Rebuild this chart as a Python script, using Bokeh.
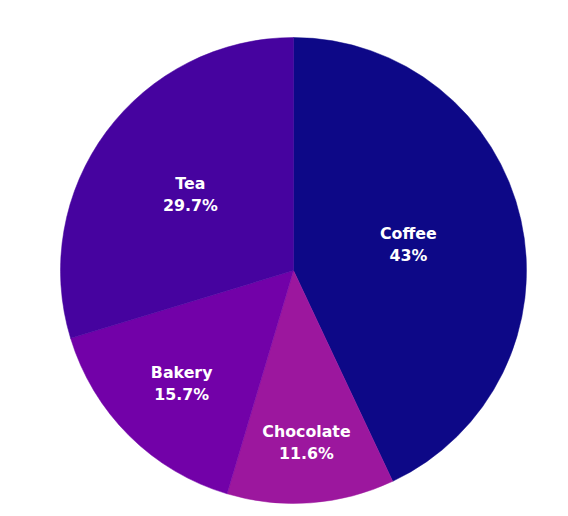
import math
from bokeh.plotting import figure
from bokeh.models import ColumnDataSource, Range1d
from bokeh.embed import file_html
from bokeh.resources import INLINE
from bokeh.core.properties import value

# Data (clockwise from 12 o'clock)
categories = ["Coffee", "Chocolate", "Bakery", "Tea"]
shares = [43.0, 11.6, 15.7, 29.7]
colors = ["#0d0887", "#9c179e", "#7201a8", "#46039f"]

# Layout / style
W, H = 568, 516
CX, CY, R = 293, H - 270, 233
label_r = [0.505, 0.74, 0.681, 0.551]

total = sum(shares)
starts, ends, lx, ly, pct = [], [], [], [], []
cum = 0.0
for i, s in enumerate(shares):
    a0 = math.pi / 2 - 2 * math.pi * cum / total
    cum += s
    a1 = math.pi / 2 - 2 * math.pi * cum / total
    starts.append(a0)
    ends.append(a1)
    mid = (a0 + a1) / 2
    lx.append(CX + label_r[i] * R * math.cos(mid))
    ly.append(CY + label_r[i] * R * math.sin(mid))
    pct.append("{:.3g}%".format(100 * s / total))

src = ColumnDataSource(dict(cat=categories, start=starts, end=ends, color=colors,
                            lx=lx, ly=ly, pct=pct))

p = figure(width=W, height=H, x_range=Range1d(0, W), y_range=Range1d(0, H),
           output_backend="svg", toolbar_location=None, min_border=0)
p.axis.visible = False
p.grid.visible = False
p.outline_line_color = None
p.background_fill_color = "white"
p.border_fill_color = "white"

p.wedge(x=CX, y=CY, radius=R, start_angle="start", end_angle="end",
        direction="clock", fill_color="color", line_color="color",
        line_width=0.5, source=src)

for col, off in (("cat", -11), ("pct", 11)):
    p.text(x="lx", y="ly", text=col, source=src, text_color="white",
           text_font=value("DejaVu Sans"), text_font_size="15.8px",
           text_font_style="bold",
           text_align="center", text_baseline="middle", y_offset=off)

open("out.html", "w").write(file_html(p, INLINE))
